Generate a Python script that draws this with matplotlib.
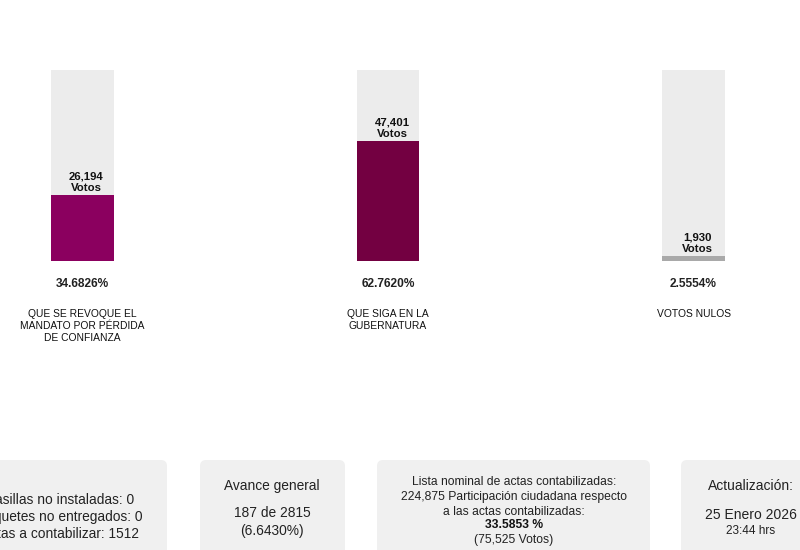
import matplotlib
matplotlib.use("Agg")
import matplotlib.pyplot as plt
from matplotlib.patches import FancyBboxPatch

plt.rcParams['font.family'] = ['Liberation Sans', 'DejaVu Sans']

# data
categories = ["QUE SE REVOQUE EL\nMANDATO POR PÉRDIDA\nDE CONFIANZA",
              "QUE SIGA EN LA\nGUBERNATURA",
              "VOTOS NULOS"]
votes = [26194, 47401, 1930]
percents = [34.6826, 62.7620, 2.5554]
bar_colors = ["#8b005f", "#730041", "#a9a9a9"]

avance_title = "Avance general"
avance_text = "187 de 2815\n(6.6430%)"
casillas_text = "Casillas no instaladas: 0\nPaquetes no entregados: 0\nActas a contabilizar: 1512"
lista_text = "Lista nominal de actas contabilizadas:\n224,875 Participación ciudadana respecto\na las actas contabilizadas:"
participacion = "33.5853 %"
participacion_votos = "(75,525 Votos)"
fecha = "25 Enero 2026"
hora = "23:44 hrs"

W, H = 800, 550
fig = plt.figure(figsize=(W / 100, H / 100), dpi=100)

# overlay axes in pixel coordinates for the info boxes
ov = fig.add_axes([0, 0, 1, 1])
ov.set_xlim(0, W)
ov.set_ylim(H, 0)
ov.axis("off")

for x0, x1 in [(-30, 167), (200, 345), (377, 650), (681, 830)]:
    ov.add_patch(FancyBboxPatch((x0, 460), x1 - x0, 120,
                                boxstyle="round,pad=0,rounding_size=6",
                                fc="#f0f0f0", ec="none"))

# the first box is cut by the left edge, like in the page capture
ov.text(60, 517, casillas_text, ha="center", va="center", fontsize=9.9,
        color="#222222", linespacing=1.25)
ov.text(272, 486, avance_title, ha="center", va="center", fontsize=9.9, color="#222222")
ov.text(272, 522, avance_text, ha="center", va="center", fontsize=9.9,
        color="#222222", linespacing=1.3)
ov.text(514, 497, lista_text, ha="center", va="center", fontsize=8.7,
        color="#222222", linespacing=1.3)
ov.text(514, 525, participacion, ha="center", va="center", fontsize=8.7,
        color="#111111", fontweight="bold")
ov.text(514, 540, participacion_votos, ha="center", va="center", fontsize=8.7, color="#222222")
ov.text(751, 486, "Actualización:", ha="center", va="center", fontsize=10, color="#222222")
ov.text(751, 515, fecha, ha="center", va="center", fontsize=10, color="#222222")
ov.text(751, 531, hora, ha="center", va="center", fontsize=8.5, color="#222222")

# bar axes
left, right, top, bottom = 51, 725, 70, 261
ax = fig.add_axes([left / W, 1 - bottom / H, (right - left) / W, (bottom - top) / H])
ax.set_xlim(-0.103, 2.103)
ax.set_ylim(0, 100)
ax.axis("off")

x = range(len(categories))
ax.bar(x, [100] * len(categories), width=0.206, color="#ececec", zorder=1)
ax.bar(x, percents, width=0.206, color=bar_colors, zorder=2)

for i, (v, p, c) in enumerate(zip(votes, percents, categories)):
    ax.annotate(f"{v:,}\nVotos", xy=(i, p), xytext=(4, 2), textcoords="offset pixels",
                ha="center", va="bottom", fontsize=8.2, fontweight="bold",
                color="#111111", linespacing=1.15)
    ax.annotate(f"{p:.4f}%", xy=(i, 0), xytext=(0, -23), textcoords="offset pixels",
                ha="center", va="center", fontsize=8.6, fontweight="bold", color="#222222")
    ax.annotate(c, xy=(i, 0), xytext=(0, -48), textcoords="offset pixels",
                ha="center", va="top", fontsize=7.4, color="#111111", linespacing=1.25,
                annotation_clip=False)

fig.savefig("out.png", dpi=100)
